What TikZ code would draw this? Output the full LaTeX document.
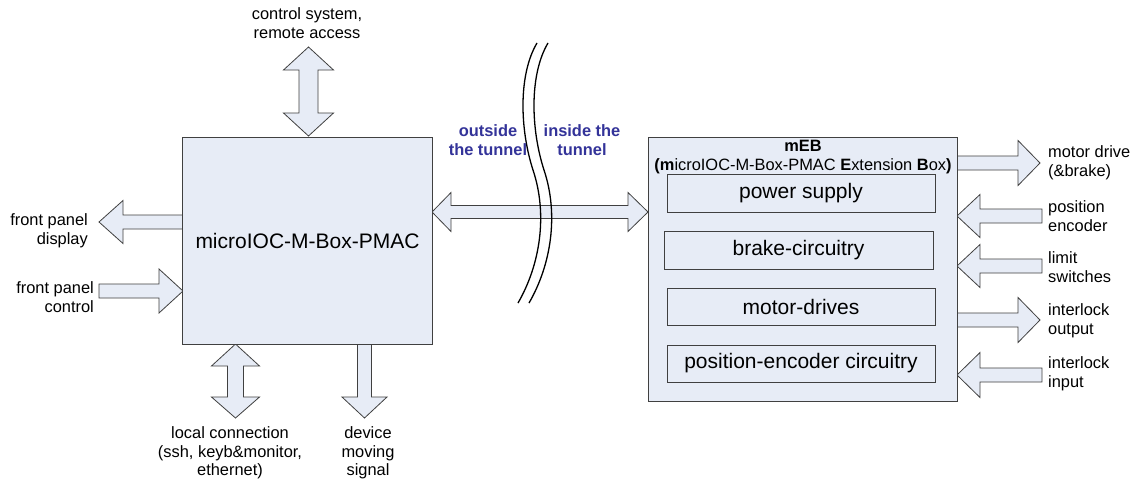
\documentclass[tikz,border=0pt]{standalone}
\usepackage{fontspec}
\setmainfont{Liberation Sans}
\definecolor{boxfill}{RGB}{231,236,246}
\definecolor{boxline}{RGB}{64,64,64}
\definecolor{tunnelblue}{RGB}{51,51,153}
\newcommand\myLbl{\fontsize{16.4}{18.7}\selectfont}
\newcommand\myBig{\fontsize{21}{25}\selectfont}
\tikzset{
  box/.style={draw=boxline, fill=boxfill, line width=0.9pt, inner sep=0pt},
  inbox/.style={draw=boxline, fill=boxfill, line width=0.8pt, inner sep=0pt, font=\myBig},
  lbl/.style={font=\myLbl, align=center, inner sep=0pt},
  tunnel/.style={font=\myLbl\bfseries, text=tunnelblue, align=center, inner sep=0pt},
  barrow/.style={draw=boxline, fill=boxfill, line width=0.8pt, line join=miter},
  wave/.style={draw=black, line width=1.3pt}
}
% horizontal single block arrow: tail x, head-base x, tip x, centre y, shaft half, head half
\newcommand\myHArr[6]{\draw[barrow] ({#1},{#4-#5}) -- ({#2},{#4-#5}) -- ({#2},{#4-#6}) -- ({#3},{#4})
  -- ({#2},{#4+#6}) -- ({#2},{#4+#5}) -- ({#1},{#4+#5}) -- cycle;}
% vertical single block arrow: centre x, tail y, head-base y, tip y, shaft half, head half
\newcommand\myVArr[6]{\draw[barrow] ({#1-#5},{#2}) -- ({#1-#5},{#3}) -- ({#1-#6},{#3}) -- ({#1},{#4})
  -- ({#1+#6},{#3}) -- ({#1+#5},{#3}) -- ({#1+#5},{#2}) -- cycle;}
% horizontal double block arrow: tip1 x, base1 x, base2 x, tip2 x, centre y, shaft half, head half
\newcommand\myHDArr[7]{\draw[barrow] ({#1},{#5}) -- ({#2},{#5-#7}) -- ({#2},{#5-#6}) -- ({#3},{#5-#6})
  -- ({#3},{#5-#7}) -- ({#4},{#5}) -- ({#3},{#5+#7}) -- ({#3},{#5+#6}) -- ({#2},{#5+#6})
  -- ({#2},{#5+#7}) -- cycle;}
% vertical double block arrow: centre x, tip1 y, base1 y, base2 y, tip2 y, shaft half, head half
\newcommand\myVDArr[7]{\draw[barrow] ({#1},{#2}) -- ({#1+#7},{#3}) -- ({#1+#6},{#3}) -- ({#1+#6},{#4})
  -- ({#1+#7},{#4}) -- ({#1},{#5}) -- ({#1-#7},{#4}) -- ({#1-#6},{#4}) -- ({#1-#6},{#3})
  -- ({#1-#7},{#3}) -- cycle;}
\begin{document}
\begin{tikzpicture}[x=1pt,y=-1pt]
\fill[white] (0,0) rectangle (1140,479);
\useasboundingbox (0,0) rectangle (1140,479);

% block arrows
\myVDArr{308.5}{47}{70}{113}{136}{9.5}{25}
\myHDArr{432}{451}{628}{648}{212}{6.5}{19.5}
\myHArr{183}{123}{99}{222}{7}{21.5}
\myHArr{99}{159}{183}{291}{7}{22}
\myVDArr{235.5}{344}{366}{397}{418}{8}{24}
\myVArr{364.5}{344}{397}{418}{7}{22.5}
\myHArr{957}{1018}{1040}{163}{7}{22.5}
\myHArr{1042}{980}{957}{216}{7}{21.5}
\myHArr{1042}{980}{957}{266}{7}{21.5}
\myHArr{957}{1018}{1040}{320}{7}{22.5}
\myHArr{1042}{980}{957}{375}{7}{22.5}

% main boxes
\node[box, minimum width=250pt, minimum height=207pt, font=\myBig] (main) at (307.5,240.5) {microIOC-M-Box-PMAC};
\node[box, minimum width=309pt, minimum height=264pt] (meb) at (802.5,269) {};
\node[lbl] (mebtitle) at (803,157) {\textbf{mEB}\\\textbf{(m}icroIOC-M-Box-PMAC \textbf{E}xtension \textbf{B}ox\textbf{)}};

% inner boxes
\node[inbox, minimum width=268pt, minimum height=38pt] (ps) at (801,193) {power supply};
\node[inbox, minimum width=269pt, minimum height=38pt] (brake) at (798.5,250) {brake-circuitry};
\node[inbox, minimum width=268pt, minimum height=37pt] (motor) at (801,306.5) {motor-drives};
\node[inbox, minimum width=268pt, minimum height=37pt] (penc) at (801,363.5) {position-encoder circuitry};

% tunnel break lines
\draw[wave] (537,43) .. controls (518,75) and (520,130) .. (533,170) .. controls (548,215) and (540,265) .. (518,303);
\draw[wave] (548,43) .. controls (529,75) and (531,130) .. (544,170) .. controls (559,215) and (551,265) .. (529,303);
\node[tunnel] (outside) at (488,140) {outside\\the tunnel};
\node[tunnel] (inside) at (582,140) {inside the\\tunnel};

% labels
\node[lbl] (ctrl) at (307,23) {control system,\\remote access};
\node[lbl, align=right, anchor=east] (fpd) at (88,231) {front panel\\display};
\node[lbl, align=right, anchor=east] (fpc) at (94,297) {front panel\\control};
\node[lbl] (local) at (230,453) {local connection\\(ssh, keyb\&monitor,\\ethernet)};
\node[lbl] (dev) at (368,453) {device\\moving\\signal};
\node[lbl, align=left, anchor=west] (md) at (1048,163) {motor drive\\(\&brake)};
\node[lbl, align=left, anchor=west] (pe) at (1048,216) {position\\encoder};
\node[lbl, align=left, anchor=west] (ls) at (1048,267) {limit\\switches};
\node[lbl, align=left, anchor=west] (io) at (1048,321) {interlock\\output};
\node[lbl, align=left, anchor=west] (ii) at (1048,374) {interlock\\input};
\end{tikzpicture}
\end{document}
